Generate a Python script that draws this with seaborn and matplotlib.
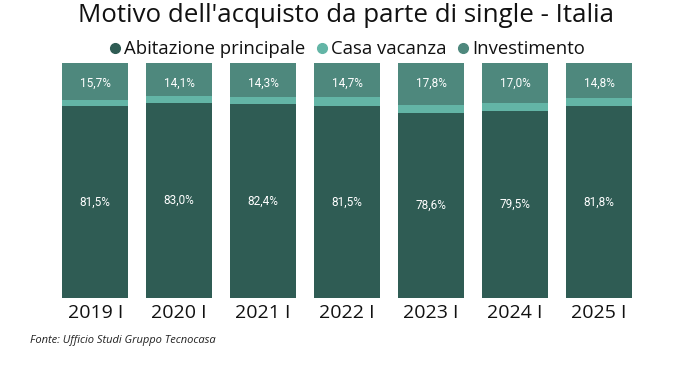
import matplotlib
matplotlib.use("Agg")
import matplotlib.pyplot as plt
from matplotlib.lines import Line2D
import seaborn as sns
import pandas as pd
import numpy as np

categories = ["2019 I", "2020 I", "2021 I", "2022 I", "2023 I", "2024 I", "2025 I"]
abitazione = [81.5, 83.0, 82.4, 81.5, 78.6, 79.5, 81.8]
investimento = [15.7, 14.1, 14.3, 14.7, 17.8, 17.0, 14.8]
casa_vacanza = [round(100 - a - i, 1) for a, i in zip(abitazione, investimento)]

series_names = ["Abitazione principale", "Casa vacanza", "Investimento"]
colors = ["#2F5C54", "#63B5A6", "#4E887D"]

sns.set_theme(style="white")
plt.rcParams["font.family"] = ["Open Sans", "DejaVu Sans"]

fig = plt.figure(figsize=(6.91, 3.68), dpi=100)
ax = fig.add_axes([0.077, 0.19, 0.851, 0.639])

df = pd.DataFrame({"cat": categories, "a": abitazione, "c": casa_vacanza, "i": investimento})
bottoms = [np.zeros(len(df)), df["a"].values, df["a"].values + df["c"].values]
for col, bot, colr in zip(["a", "c", "i"], bottoms, colors):
    sns.barplot(data=df, x="cat", y=col, bottom=bot, color=colr, width=0.786,
                saturation=1, ax=ax, edgecolor="none", linewidth=0)

for k in range(len(categories)):
    ax.text(k, abitazione[k] / 2, f"{abitazione[k]:.1f}%".replace(".", ","),
            ha="center", va="center", color="white", fontsize=8.5, family="Roboto")
    ax.text(k, 100 - 8.5, f"{investimento[k]:.1f}%".replace(".", ","),
            ha="center", va="center", color="white", fontsize=8.5, family="Roboto")

ax.set_ylim(0, 100)
ax.set_xlim(-0.5, len(categories) - 0.5)
ax.set_xlabel("")
ax.set_ylabel("")
ax.set_yticks([])
ax.tick_params(axis="x", labelsize=14, pad=4, length=0, labelcolor="#111111")
for s in ax.spines.values():
    s.set_visible(False)

fig.text(0.5, 0.958, "Motivo dell'acquisto da parte di single - Italia",
         ha="center", va="center", fontsize=18.6, color="#111111")

handles = [Line2D([0], [0], marker="o", linestyle="", markersize=7,
                  markerfacecolor=c, markeredgecolor=c) for c in colors]
fig.legend(handles, series_names, loc="center", bbox_to_anchor=(0.5, 0.866),
           ncol=3, frameon=False, fontsize=13.3, handletextpad=0.0,
           columnspacing=0.4, handlelength=1.0, labelcolor="#111111")

fig.text(0.043, 0.075, "Fonte: Ufficio Studi Gruppo Tecnocasa", ha="left",
         va="center", fontsize=8, style="italic", color="#222222")

fig.savefig("out.png", dpi=100)
